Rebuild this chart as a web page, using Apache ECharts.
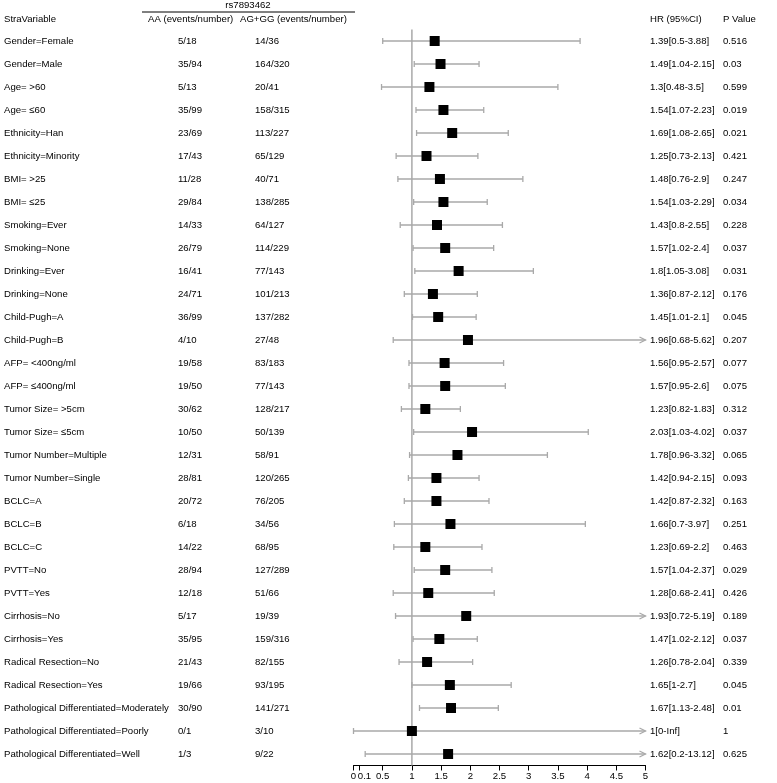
<!DOCTYPE html>
<html>
<head>
<meta charset="utf-8">
<script src="https://cdn.jsdelivr.net/npm/echarts@6/dist/echarts.min.js"></script>
<style>
html,body{margin:0;padding:0;background:#fff;}
#chart{width:777px;height:783px;}
</style>
</head>
<body>
<div id="chart"></div>
<script>
const strata = [
  "Gender=Female","Gender=Male","Age= >60","Age= \u226460","Ethnicity=Han","Ethnicity=Minority",
  "BMI= >25","BMI= \u226425","Smoking=Ever","Smoking=None","Drinking=Ever","Drinking=None",
  "Child-Pugh=A","Child-Pugh=B","AFP= <400ng/ml","AFP= \u2264400ng/ml","Tumor Size= >5cm","Tumor Size= \u22645cm",
  "Tumor Number=Multiple","Tumor Number=Single","BCLC=A","BCLC=B","BCLC=C","PVTT=No","PVTT=Yes",
  "Cirrhosis=No","Cirrhosis=Yes","Radical Resection=No","Radical Resection=Yes",
  "Pathological Differentiated=Moderately","Pathological Differentiated=Poorly","Pathological Differentiated=Well"
];
const aaEvents = ["5/18","35/94","5/13","35/99","23/69","17/43","11/28","29/84","14/33","26/79","16/41","24/71",
  "36/99","4/10","19/58","19/50","30/62","10/50","12/31","28/81","20/72","6/18","14/22","28/94","12/18",
  "5/17","35/95","21/43","19/66","30/90","0/1","1/3"];
const agEvents = ["14/36","164/320","20/41","158/315","113/227","65/129","40/71","138/285","64/127","114/229","77/143","101/213",
  "137/282","27/48","83/183","77/143","128/217","50/139","58/91","120/265","76/205","34/56","68/95","127/289","51/66",
  "19/39","159/316","82/155","93/195","141/271","3/10","9/22"];
const hr = [1.39,1.49,1.3,1.54,1.69,1.25,1.48,1.54,1.43,1.57,1.8,1.36,1.45,1.96,1.56,1.57,1.23,2.03,1.78,1.42,1.42,1.66,1.23,1.57,1.28,1.93,1.47,1.26,1.65,1.67,1,1.62];
const lower = [0.5,1.04,0.48,1.07,1.08,0.73,0.76,1.03,0.8,1.02,1.05,0.87,1.01,0.68,0.95,0.95,0.82,1.03,0.96,0.94,0.87,0.7,0.69,1.04,0.68,0.72,1.02,0.78,1,1.13,0,0.2];
const upper = [3.88,2.15,3.5,2.23,2.65,2.13,2.9,2.29,2.55,2.4,3.08,2.12,2.1,5.62,2.57,2.6,1.83,4.02,3.32,2.15,2.32,3.97,2.2,2.37,2.41,5.19,2.12,2.04,2.7,2.48,Infinity,13.12];
const pValues = ["0.516","0.03","0.599","0.019","0.021","0.421","0.247","0.034","0.228","0.037","0.031","0.176",
  "0.045","0.207","0.077","0.075","0.312","0.037","0.065","0.093","0.163","0.251","0.463","0.029","0.426",
  "0.189","0.037","0.339","0.045","0.01","1","0.625"];
const xTicks = [0,0.1,0.5,1,1.5,2,2.5,3,3.5,4,4.5,5];
const refValue = 1;
const xMax = 5;

const FONT = 'Liberation Sans, Arial, Helvetica, sans-serif';
const FS = 9.6;
const fmt = v => (v === Infinity ? 'Inf' : String(v));
const hrText = strata.map((s, i) => fmt(hr[i]) + '[' + fmt(lower[i]) + '-' + fmt(upper[i]) + ']');

const chart = echarts.init(document.getElementById('chart'), null, {renderer: 'canvas'});

function txt(x, y, text, align) {
  return {type: 'text', silent: true, style: {x: x, y: y, text: text, fill: '#000', fontSize: FS, fontFamily: FONT, align: align || 'left', verticalAlign: 'middle'}};
}

const yMin = -0.5, yMax = strata.length - 0.5;

const option = {
  animation: false,
  backgroundColor: '#fff',
  grid: {left: 353.5, right: 131.5, top: 29.5, bottom: 17.5, outerBoundsMode: 'none'},
  xAxis: {
    type: 'value', min: 0, max: xMax,
    axisLine: {show: true, onZero: false, lineStyle: {color: '#000', width: 1}},
    axisTick: {show: true, length: 5, customValues: xTicks, lineStyle: {color: '#000'}},
    axisLabel: {show: false},
    splitLine: {show: false}
  },
  yAxis: {
    type: 'value', min: yMin, max: yMax, inverse: true, show: false,
    splitLine: {show: false}
  },
  graphic: [
    txt(4, 19, 'StraVariable'),
    txt(148, 19, 'AA (events/number)'),
    txt(240, 19, 'AG+GG (events/number)'),
    txt(248, 5.5, 'rs7893462', 'center'),
    {type: 'line', silent: true, shape: {x1: 142, y1: 12, x2: 355, y2: 12}, style: {stroke: '#000', lineWidth: 1}},
    txt(650, 19, 'HR (95%CI)'),
    txt(723, 19, 'P Value')
  ],
  series: [
    {
      type: 'custom',
      name: 'refLine',
      clip: false,
      silent: true,
      data: [[refValue, yMin, yMax]],
      encode: {x: 0, y: [1, 2]},
      renderItem: function (params, api) {
        const a = api.coord([api.value(0), api.value(1)]);
        const b = api.coord([api.value(0), api.value(2)]);
        return {type: 'line', shape: {x1: a[0], y1: a[1], x2: b[0], y2: b[1]}, style: {stroke: '#a9a9a9', lineWidth: 1.5}};
      },
      z: 1
    },
    {
      type: 'custom',
      name: 'ci',
      clip: false,
      silent: true,
      data: strata.map((s, i) => [lower[i], Math.min(upper[i], xMax), i, upper[i] > xMax ? 1 : 0]),
      encode: {x: [0, 1], y: 2},
      renderItem: function (params, api) {
        const p1 = api.coord([api.value(0), api.value(2)]);
        const p2 = api.coord([api.value(1), api.value(2)]);
        const st = {stroke: '#a9a9a9', lineWidth: 1.3, fill: null};
        const ch = [
          {type: 'line', shape: {x1: p1[0], y1: p1[1], x2: p2[0], y2: p2[1]}, style: st},
          {type: 'line', shape: {x1: p1[0], y1: p1[1] - 3, x2: p1[0], y2: p1[1] + 3}, style: st}
        ];
        if (api.value(3) === 1) {
          ch.push({type: 'polyline', shape: {points: [[p2[0] - 6, p2[1] - 3], [p2[0], p2[1]], [p2[0] - 6, p2[1] + 3]]}, style: st});
        } else {
          ch.push({type: 'line', shape: {x1: p2[0], y1: p2[1] - 3, x2: p2[0], y2: p2[1] + 3}, style: st});
        }
        return {type: 'group', children: ch};
      },
      z: 2
    },
    {
      type: 'scatter',
      name: 'HR',
      silent: true,
      symbol: 'rect',
      symbolSize: 10,
      itemStyle: {color: '#000', opacity: 1},
      data: strata.map((s, i) => [hr[i], i]),
      z: 5
    },
    {
      type: 'custom',
      name: 'table',
      clip: false,
      silent: true,
      data: strata.map((s, i) => [0, i]),
      encode: {x: 0, y: 1},
      renderItem: function (params, api) {
        const i = params.dataIndex;
        const y = api.coord([0, api.value(1)])[1];
        return {
          type: 'group',
          children: [
            txt(4, y, strata[i]),
            txt(178, y, aaEvents[i]),
            txt(255, y, agEvents[i]),
            txt(650, y, hrText[i]),
            txt(723, y, pValues[i])
          ]
        };
      },
      z: 4
    },
    {
      type: 'custom',
      name: 'tickLabels',
      clip: false,
      silent: true,
      data: xTicks.map(v => [v, yMax]),
      encode: {x: 0, y: 1},
      renderItem: function (params, api) {
        const v = api.value(0);
        const p = api.coord([v, api.value(1)]);
        let x = p[0], align = 'center';
        if (params.dataIndex === 0) { x = p[0] + 2.5; align = 'right'; }
        else if (params.dataIndex === 1) { x = p[0] - 1.5; align = 'left'; }
        return txt(x, p[1] + 11, String(v), align);
      },
      z: 4
    }
  ]
};
chart.setOption(option);
</script>
</body>
</html>
